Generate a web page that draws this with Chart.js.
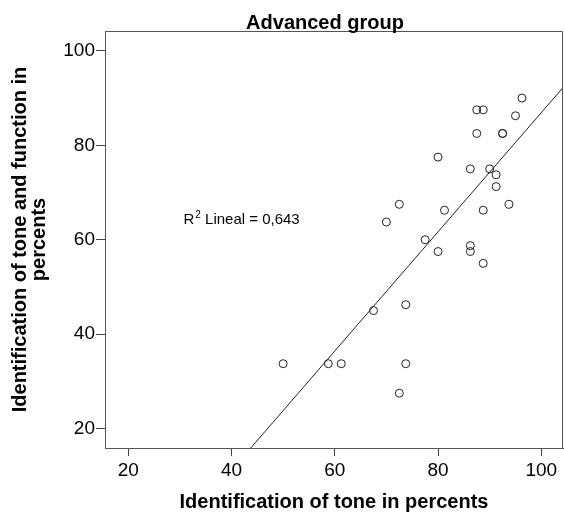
<!DOCTYPE html>
<html>
<head>
<meta charset="utf-8">
<script src="https://cdn.jsdelivr.net/npm/chart.js@4"></script>
<style>
  html, body { margin: 0; padding: 0; background: #fff; }
  #wrap { width: 564px; height: 515px; }
</style>
</head>
<body>
<div id="wrap"><canvas id="chart" width="564" height="515"></canvas></div>
<script>
  // valores
  const toneX = [96.25, 87.5, 88.75, 95, 87.5, 92.5, 92.5, 80, 86.25, 90, 91.25, 91.25,
                 72.5, 93.75, 81.25, 88.75, 70, 77.5, 80, 86.25, 86.25, 88.75,
                 73.75, 67.5, 50, 58.75, 61.25, 73.75, 72.5];
  const toneFuncY = [90, 87.5, 87.5, 86.25, 82.5, 82.5, 82.5, 77.5, 75, 75, 73.75, 71.25,
                     67.5, 67.5, 66.25, 66.25, 63.75, 60, 57.5, 58.75, 57.5, 55,
                     46.25, 45, 33.75, 33.75, 33.75, 33.75, 27.5];
  const xTicks = [20, 40, 60, 80, 100];
  const yTicks = [20, 40, 60, 80, 100];
  const fitSlope = 1.262;
  const fitIntercept = -39.28;
  const r2Text = '0,643';

  const xMin = 15.5, xMax = 104.2;
  const yMin = 15.9, yMax = 104.2;

  const points = toneX.map((x, i) => ({ x: x, y: toneFuncY[i] }));
  const fitLine = [xMin, xMax].map(x => ({ x: x, y: fitIntercept + fitSlope * x }));

  const FONT = "'Liberation Sans', Arial, sans-serif";

  const extras = {
    id: 'extras',
    afterDraw(chart) {
      const { ctx, chartArea: a, scales } = chart;
      ctx.save();
      // marco superior y derecho
      ctx.strokeStyle = '#555';
      ctx.lineWidth = 1;
      ctx.beginPath();
      ctx.moveTo(a.left, a.top + 0.5);
      ctx.lineTo(a.right - 0.5, a.top + 0.5);
      ctx.lineTo(a.right - 0.5, a.bottom);
      ctx.stroke();

      // titulo
      ctx.fillStyle = '#000';
      ctx.font = 'bold 20px ' + FONT;
      ctx.textAlign = 'center';
      ctx.textBaseline = 'alphabetic';
      ctx.fillText('Advanced group', 325, 29);

      // R2
      const lx = scales.x.getPixelForValue(30.7);
      const ly = scales.y.getPixelForValue(63.3);
      ctx.textAlign = 'left';
      ctx.font = '15px ' + FONT;
      ctx.fillText('R', lx, ly);
      let w = ctx.measureText('R').width;
      ctx.font = '10px ' + FONT;
      ctx.fillText('2', lx + w + 1, ly - 6);
      w += ctx.measureText('2').width + 1;
      ctx.font = '15px ' + FONT;
      ctx.fillText(' Lineal = ' + r2Text, lx + w, ly);
      ctx.restore();
    }
  };

  new Chart(document.getElementById('chart'), {
    type: 'scatter',
    data: {
      datasets: [{
        data: points,
        pointStyle: 'circle',
        pointRadius: 4,
        pointBorderWidth: 1,
        pointBorderColor: '#222',
        pointBackgroundColor: 'rgba(255,255,255,0)'
      }, {
        type: 'line',
        data: fitLine,
        borderColor: '#222',
        borderWidth: 1,
        pointRadius: 0,
        fill: false
      }]
    },
    options: {
      responsive: false,
      animation: false,
      layout: { autoPadding: false, padding: { top: 31, right: 1, left: 0, bottom: 0 } },
      plugins: { legend: { display: false }, tooltip: { enabled: false } },
      scales: {
        x: {
          type: 'linear',
          min: xMin, max: xMax,
          afterBuildTicks: s => { s.ticks = xTicks.map(v => ({ value: v })); },
          afterFit: s => { s.height = 67; s.paddingLeft = 0; s.paddingRight = 0; },
          grid: { drawOnChartArea: false, tickLength: 8, color: '#444' },
          border: { color: '#555', width: 1 },
          ticks: { color: '#000', font: { family: FONT, size: 19 }, padding: 3, maxRotation: 0 },
          title: {
            display: true,
            text: 'Identification of tone in percents',
            color: '#000',
            font: { family: FONT, size: 20, weight: 'bold', lineHeight: 1.2 },
            padding: { top: 0, bottom: 1 }
          }
        },
        y: {
          type: 'linear',
          min: yMin, max: yMax,
          afterBuildTicks: s => { s.ticks = yTicks.map(v => ({ value: v })); },
          afterFit: s => { s.width = 105; s.paddingTop = 0; s.paddingBottom = 0; },
          grid: { drawOnChartArea: false, tickLength: 9, color: '#444' },
          border: { color: '#555', width: 1 },
          ticks: { color: '#000', font: { family: FONT, size: 19 }, padding: 1 },
          title: {
            display: true,
            text: ['Identification of tone and function in', 'percents'],
            color: '#000',
            font: { family: FONT, size: 20, weight: 'bold', lineHeight: 0.95 },
            padding: { top: 11, bottom: 0 }
          }
        }
      }
    },
    plugins: [extras]
  });
</script>
</body>
</html>
